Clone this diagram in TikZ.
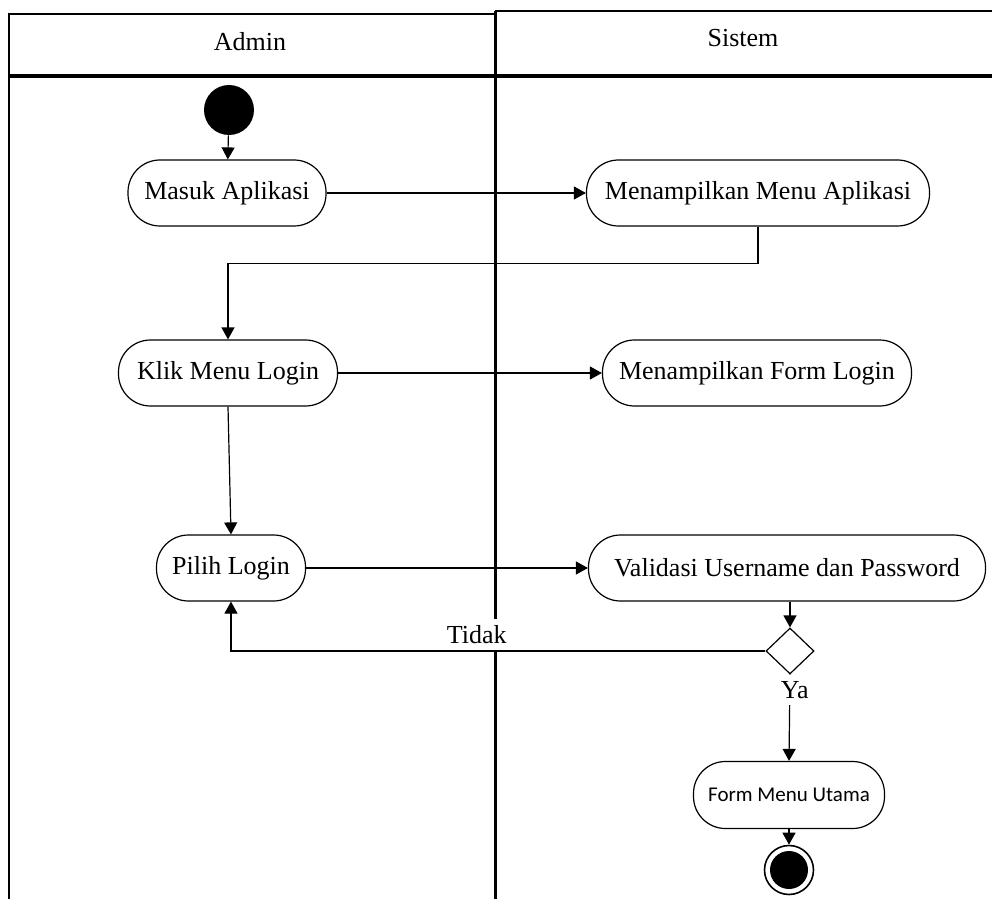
\documentclass[tikz,border=0pt]{standalone}
\usepackage{fontspec}
\setmainfont{Liberation Serif}
\newfontfamily\carlito{Carlito}
\usetikzlibrary{shapes.geometric, arrows.meta}

\tikzset{
    lane/.style={line width=1pt},
    lanetitle/.style={font=\fontsize{13}{15}\selectfont},
    activity/.style={draw, rectangle, rounded corners=16pt, line width=0.6pt,
        minimum height=33pt, inner sep=2pt, font=\fontsize{13}{15}\selectfont},
    flow/.style={->, line width=0.6pt},
    guard/.style={fill=white, font=\fontsize{13}{15}\selectfont},
}

\begin{document}
\begin{tikzpicture}[x=0.5pt, y=-0.5pt, >={Triangle[width=6.5pt,length=6pt]}]
    \useasboundingbox (0,0) rectangle (992,899);
    % swimlanes
    \draw [lane] (9,899) -- (9,14) -- (495,14);
    \draw [lane] (495,11) -- (992,11);
    \draw [line width=1.5pt] (495,11) -- (495,899);
    \draw [line width=2pt] (9,76) -- (992,76);
    \node (admin) at (250,42) [lanetitle] {Admin};
    \node (sistem) at (743,38) [lanetitle] {Sistem};
    % activities
    \node (start) at (229,110) [circle, fill, minimum size=25pt, inner sep=0] {};
    \node (masuk) at (227,193) [activity, minimum width=99pt] {Masuk Aplikasi};
    \node (menuapp) at (758,193) [activity, minimum width=171.5pt] {Menampilkan Menu Aplikasi};
    \node (klik) at (228,373) [activity, minimum width=109.5pt] {Klik Menu Login};
    \node (formlogin) at (757,373) [activity, minimum width=154.5pt] {Menampilkan Form Login};
    \node (pilih) at (231,568) [activity, minimum width=74.5pt] {Pilih Login};
    \node (validasi) at (787,568) [activity, minimum width=198.5pt] {Validasi Username dan Password};
    \node (cek) at (790,651) [draw, diamond, line width=0.6pt, minimum width=24pt, minimum height=23pt, inner sep=0] {};
    \node (utama) at (789,795) [activity, minimum width=95.5pt, minimum height=33.5pt, font=\carlito\fontsize{10.5}{12}\selectfont] {Form Menu Utama};
    \node (final) at (789,870) [draw, circle, line width=0.8pt, minimum size=24.5pt, inner sep=0,
        path picture={\fill (path picture bounding box.center) circle (9.5pt);}] {};
    % flows
    \draw [flow] (start) -- (masuk);
    \draw [flow] (masuk.east) -- (menuapp.west);
    \draw [flow] (menuapp.south) -- ++(0,37) -| (klik.north);
    \draw [flow] (klik.east) -- (formlogin.west);
    \draw [flow] (klik.south) -- (pilih.north);
    \draw [flow] (pilih.east) -- (validasi.west);
    \draw [flow] (cek.north |- validasi.south) -- (cek.north);
    \draw [flow] (cek.west) -| node [guard, pos=0.27, above] {Tidak} (pilih.south);
    \draw [flow] (cek.south) -- node [guard, pos=0.18, xshift=2.5pt] {Ya} (utama.north);
    \draw [flow] (utama.south) -- (final);
\end{tikzpicture}
\end{document}
